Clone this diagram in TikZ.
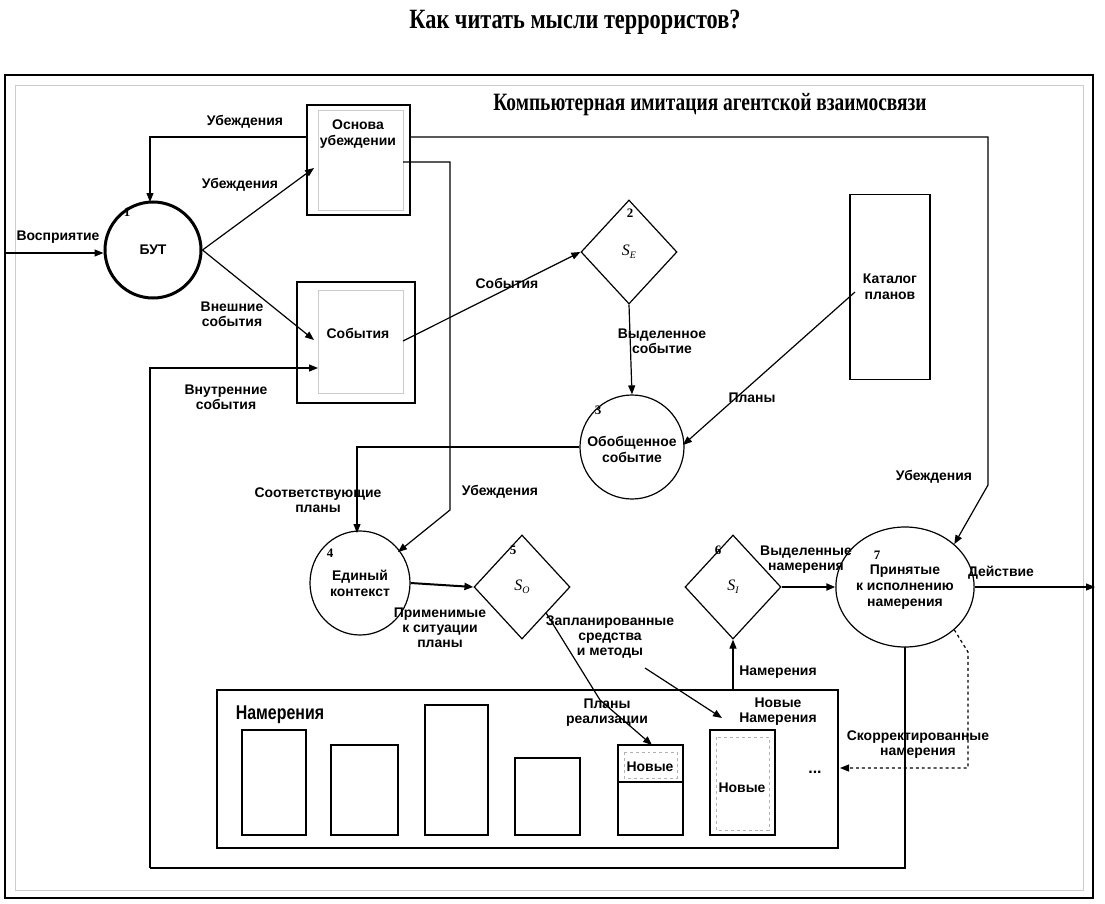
\documentclass[tikz,border=0pt]{standalone}
\usepackage{fontspec}
\setmainfont{Liberation Sans}
\newfontfamily\serifb{Liberation Serif}
\usetikzlibrary{shapes.geometric,arrows.meta}
\begin{document}
\begin{tikzpicture}[x=1bp,y=-1bp,
  lbl/.style={font=\fontsize{14}{15}\selectfont\bfseries,align=center,inner sep=1pt},
  num/.style={font=\serifb\fontsize{13}{13}\selectfont\bfseries,inner sep=0pt},
  ar/.style={-{Triangle[length=9bp,width=7bp]},line width=1.2bp},
  ln/.style={line width=1.2bp},
  dia/.style={diamond,draw,line width=1.2bp,minimum width=96bp,minimum height=104bp,inner sep=0pt,font=\serifb\itshape\fontsize{16}{16}\selectfont},
  box/.style={draw,line width=1.5bp},
  gbox/.style={draw=gray!40,line width=0.8bp},
  dbox/.style={draw=gray!60,dashed,line width=0.8bp}]
\useasboundingbox (0,0) rectangle (1105,904);
\node[font=\serifb\bfseries\fontsize{28}{28}\selectfont] (title) at (575,22) {\scalebox{0.8}[1]{Как читать мысли террористов?}};
\draw[line width=2bp] (5,75) rectangle (1093,898);
\draw[gray!40,line width=1bp] (15,85) rectangle (1083,890);
\node[font=\serifb\bfseries\fontsize{25}{25}\selectfont] (sub) at (710,105) {\scalebox{0.78}[1]{Компьютерная имитация агентской взаимосвязи}};

% node 1
\node[circle,draw,line width=3bp,minimum size=96bp,font=\fontsize{14}{14}\selectfont\bfseries] (n1) at (153,250) {БУТ};
\node[num] (k1) at (127,212) {1};
\coordinate (in) at (5,253);
\draw[ar] (in) -- (n1.west|-in);
\node[lbl] (lin) at (58,237) {Восприятие};

% belief base
\draw[box] (307,105) rectangle (410,215);
\draw[gbox] (318,110) rectangle (403,210);
\node[lbl,font=\fontsize{14}{16}\selectfont\bfseries] (bb) at (358,134) {Основа\\убеждении};
\coordinate (bbL) at (307,137);
\coordinate (bbR) at (410,137);
\coordinate (bbR2) at (403,162);
\draw[ar] (n1.east) -- (314,168);
\node[lbl] (l1) at (240,185) {Убеждения};
\draw[ar] (bbL) -- (150,137) -- (150,202);
\node[lbl] (l2) at (245,122) {Убеждения};

% events box
\draw[box] (297,282) rectangle (415,403);
\draw[gbox] (318,290) rectangle (403,393);
\node[lbl] (ev) at (358,333) {События};
\draw[ar] (n1.east) -- (314,340);
\node[lbl] (l3) at (232,314) {Внешние\\события};
\coordinate (bl) at (150,868);
\draw[ar] (bl) -- (150,368) -- (318,368);
\node[lbl] (l4) at (226,397) {Внутренние\\события};

% node 2
\node[dia] (n2) at (629,252) {S\raisebox{-3bp}{\fontsize{10}{10}\selectfont E}};
\node[num] (k2) at (630,213) {2};
\draw[ar] (403,341) -- (n2.west);
\node[lbl] (l5) at (507,283) {События};

% node 3
\node[circle,draw,line width=1.2bp,minimum size=104bp,align=center,font=\fontsize{14}{16}\selectfont\bfseries,inner sep=0pt] (n3) at (632,447) {\\Обобщенное\\событие};
\node[num] (k3) at (598,410) {3};
\draw[ar] (n2.south) -- (n3.north);
\node[lbl] (l6) at (662,341) {Выделенное\\событие};

% catalogue
\node[box,minimum width=80bp,minimum height=185bp,align=center,font=\fontsize{14}{16}\selectfont\bfseries] (cat) at (890,287) {Каталог\\планов};
\draw[ar] (855,292) -- (683,445);
\node[lbl] (l7) at (752,398) {Планы};

% node 4
\node[ellipse,draw,line width=1.2bp,minimum width=100bp,minimum height=104bp,align=center,font=\fontsize{14}{16}\selectfont\bfseries,inner sep=0pt] (n4) at (360,583) {Единый\\контекст};
\node[num] (k4) at (330,553) {4};
\draw[ar] (n3.west) -- (357,447) -- (357,533);
\node[lbl] (l8) at (318,500) {Соответствующие\\планы};
\draw[ar] (bbR2) -- (450,162) -- (450,510) -- (398,552);
\node[lbl] (l9) at (500,492) {Убеждения};

% node 5
\node[dia] (n5) at (522,587) {S\raisebox{-3bp}{\fontsize{10}{10}\selectfont O}};
\node[num] (k5) at (513,550) {5};
\draw[ar,line width=2bp] (n4.east) -- (n5.west);
\node[lbl] (l10) at (440,628) {Применимые\\к ситуации\\планы};

% node 6
\node[dia] (n6) at (733,587) {S\raisebox{-3bp}{\fontsize{10}{10}\selectfont I}};
\node[num] (k6) at (718,550) {6};

% node 7
\node[ellipse,draw,line width=1.2bp,minimum width=104bp,minimum height=120bp,align=center,font=\fontsize{14}{16}\selectfont\bfseries,inner sep=0pt] (n7) at (905,587) {Принятые\\к исполнению\\намерения};
\node[num] (k7) at (877,555) {7};
\draw[ar,line width=2bp] (n6.east) -- (n7.west);
\node[lbl] (l11) at (806,560) {Выделенные\\намерения};
\coordinate (out) at (1095,587);
\draw[ar] (n7.east) -- (out);
\node[lbl] (l12) at (1001,573) {Действие};
\draw[ar] (bbR) -- (988,137) -- (988,485) -- (n7.north east);
\node[lbl] (l13) at (934,477) {Убеждения};
\draw[ln,line width=1.8bp] (905,647) -- (905,868) -- (bl);

% intentions box
\node[box,minimum width=621bp,minimum height=158bp,inner sep=0pt] (ib) at (527.5,769) {};
\node[font=\fontsize{20}{20}\selectfont\bfseries,inner sep=0pt] (ibl) at (280,715) {\scalebox{0.8}[1]{Намерения}};
\draw[box] (242,730) rectangle (306,835);
\draw[box] (331,745) rectangle (398,835);
\draw[box] (425,705) rectangle (488,835);
\draw[box] (515,758) rectangle (580,835);
\draw[box] (618,745) rectangle (683,835);
\draw[box] (618,782) -- (683,782);
\draw[dbox] (624,752) rectangle (677,778);
\node[lbl] (nv1) at (650,767) {Новые};
\draw[box] (710,730) rectangle (775,835);
\draw[dbox] (716,737) rectangle (769,830);
\node[lbl] (nv2) at (742,788) {Новые};
\node[font=\fontsize{16}{16}\selectfont\bfseries] (dots) at (815,772) {...};
\draw[ar] (733,690) -- (n6.south);
\node[lbl] (l14) at (778,672) {Намерения};
\draw[ar,dashed] (n7.south east) -- (968,652) -- (968,768) -- (840,768);
\node[lbl] (l15) at (918,745) {Скорректированные\\намерения};

% plans
\draw[ar] (n5.south east) -- (600,700) -- (652,745);
\node[lbl] (l16) at (607,713) {Планы\\реализации};
\draw[ar] (645,668) -- (722,718);
\node[lbl] (l17) at (610,637) {Запланированные\\средства\\и методы};
\node[lbl] (l18) at (778,712) {Новые\\Намерения};
\end{tikzpicture}
\end{document}
